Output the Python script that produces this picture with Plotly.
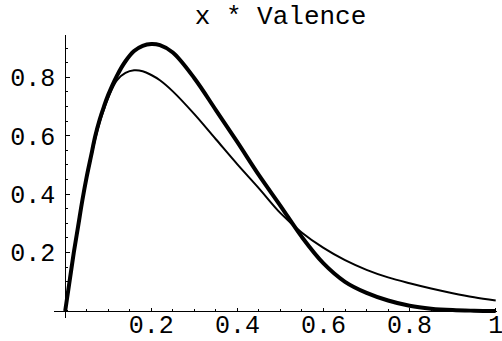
import plotly.graph_objects as go

# ---- data ----
x_vals = [0.0, 0.01, 0.02, 0.03, 0.04, 0.05, 0.06, 0.07, 0.08, 0.09, 0.10,
          0.12, 0.14, 0.16, 0.18, 0.20, 0.22, 0.25, 0.30, 0.35, 0.40, 0.45,
          0.50, 0.55, 0.60, 0.65, 0.70, 0.75, 0.80, 0.85, 0.90, 0.95, 1.0]

thick_vals = [0.0, 0.10, 0.20, 0.29, 0.38, 0.46, 0.53, 0.60, 0.655, 0.70, 0.74,
              0.805, 0.855, 0.89, 0.908, 0.914, 0.91, 0.885, 0.797, 0.688, 0.578, 0.465,
              0.36, 0.253, 0.163, 0.10, 0.062, 0.036, 0.018, 0.008, 0.003, 0.001, 0.0]

thin_vals = [0.0, 0.10, 0.20, 0.29, 0.38, 0.455, 0.525, 0.59, 0.645, 0.69, 0.73,
             0.79, 0.815, 0.824, 0.821, 0.808, 0.79, 0.752, 0.674, 0.588, 0.502, 0.42,
             0.335, 0.268, 0.216, 0.174, 0.141, 0.115, 0.095, 0.077, 0.061, 0.047, 0.036]

x_tick_vals = [0.2, 0.4, 0.6, 0.8, 1.0]
x_tick_text = ["0.2", "0.4", "0.6", "0.8", "1"]
y_tick_vals = [0.2, 0.4, 0.6, 0.8]
y_tick_text = ["0.2", "0.4", "0.6", "0.8"]
title_text = "x * Valence"

# ---- layout ----
W, H = 502, 341
ml, mr, mt, mb = 54, 5, 35, 23
xr = [-0.026, 1.003]
yr = [-0.024, 0.945]
FONT = "Liberation Mono, Courier New, monospace"

fig = go.Figure()
fig.add_trace(go.Scatter(x=x_vals, y=thin_vals, mode="lines",
                         line=dict(color="black", width=2, shape="spline"),
                         hoverinfo="skip", showlegend=False, cliponaxis=False))
fig.add_trace(go.Scatter(x=x_vals, y=thick_vals, mode="lines",
                         line=dict(color="black", width=4, shape="spline"),
                         hoverinfo="skip", showlegend=False, cliponaxis=False))

xpos = (0 - yr[0]) / (yr[1] - yr[0])
ypos = (0 - xr[0]) / (xr[1] - xr[0])

fig.update_layout(
    width=W, height=H,
    margin=dict(l=ml, r=mr, t=mt, b=mb, pad=0, autoexpand=False),
    paper_bgcolor="white", plot_bgcolor="white",
    font=dict(family=FONT, color="black", size=25),
    title=dict(text=title_text, font=dict(family=FONT, size=26, color="black"),
               xref="paper", x=(280.5 - ml) / (W - ml - mr), xanchor="center",
               yref="container", y=1 - 15 / H, yanchor="middle",
               automargin=False),
    xaxis=dict(range=xr, anchor="free", position=xpos, automargin=False,
               showline=True, linecolor="black", linewidth=1,
               showgrid=False, zeroline=False,
               tickmode="array", tickvals=x_tick_vals, ticktext=x_tick_text,
               ticks="inside", ticklen=3, tickwidth=1, tickcolor="black",
               ticklabelstandoff=-9, ticklabeloverflow="allow",
               tickfont=dict(family=FONT, size=25, color="black"),
               minor=dict(tickmode="linear", tick0=0, dtick=0.05, ticks="inside",
                          ticklen=2, tickcolor="black", showgrid=False)),
    yaxis=dict(range=yr, anchor="free", position=ypos, automargin=False,
               showline=True, linecolor="black", linewidth=1,
               showgrid=False, zeroline=False,
               tickmode="array", tickvals=y_tick_vals, ticktext=y_tick_text,
               ticks="inside", ticklen=4, tickwidth=1, tickcolor="black",
               ticklabelstandoff=5, ticklabeloverflow="allow",
               tickfont=dict(family=FONT, size=25, color="black"),
               minor=dict(tickmode="linear", tick0=0, dtick=0.05, ticks="inside",
                          ticklen=2, tickcolor="black", showgrid=False)),
)

fig.write_html(
    "out.html",
    config={"displayModeBar": False, "staticPlot": True},
    post_script="document.body.style.margin='0';document.body.style.padding='0';"
                "document.documentElement.style.overflow='hidden';",
)
